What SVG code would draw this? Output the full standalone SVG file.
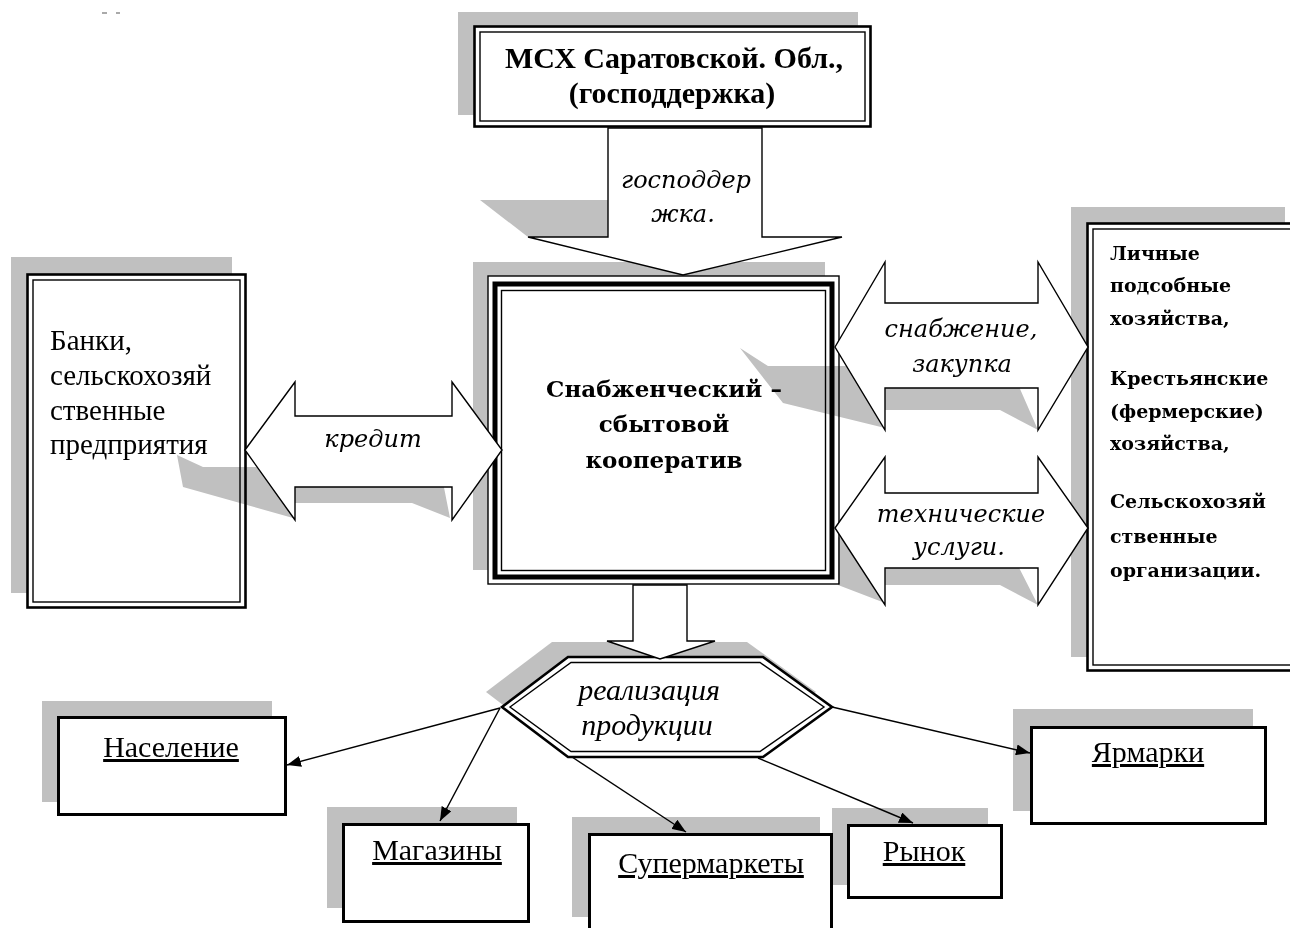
<svg xmlns="http://www.w3.org/2000/svg" width="1290" height="928" viewBox="0 0 1290 928">
<defs>
<style>
.sh{fill:#c0c0c0;stroke:none}
.ash{fill:#c0c0c0;stroke:none;mix-blend-mode:multiply}
.bg{fill:#fff;stroke:none}
.thick{fill:none;stroke:#000;stroke-width:2.6}
.thin{fill:none;stroke:#000;stroke-width:1.4}
.mid{fill:none;stroke:#000;stroke-width:5}
.box{fill:#fff;stroke:#000;stroke-width:3}
.blk{fill:#fff;stroke:#000;stroke-width:1.4;stroke-linejoin:miter}
.con{fill:none;stroke:#000;stroke-width:1.4}
.tb{font-family:"Liberation Serif",serif;font-weight:bold;fill:#000}
.db{font-family:"DejaVu Serif",serif;font-weight:bold;fill:#000}
.ti{font-family:"DejaVu Serif",serif;font-style:italic;font-size:24px;fill:#000;text-anchor:middle}
.tr{font-family:"Liberation Serif",serif;fill:#000}
.ul{font-family:"Liberation Serif",serif;font-size:30px;fill:#000;text-anchor:middle;text-decoration:underline}
</style>
<marker id="ah" viewBox="0 0 14 11" refX="14" refY="5.5" markerWidth="14" markerHeight="11" markerUnits="userSpaceOnUse" orient="auto">
<path d="M0,0 L14,5.5 L0,11 Z" fill="#000"/>
</marker>
</defs>
<rect width="1290" height="928" fill="#fff"/>
<rect x="102" y="12" width="5" height="2" fill="#aaa"/>
<rect x="116" y="12" width="4" height="2" fill="#aaa"/>

<g id="shadows">
<rect class="sh" x="458" y="12" width="400" height="103"/>
<rect class="sh" x="11" y="257" width="221" height="336"/>
<rect class="sh" x="473" y="262" width="352" height="308"/>
<rect class="sh" x="1071" y="207" width="214" height="450"/>
<polygon class="sh" points="486,692 552,642 747,642 816,692 747,742 552,742"/>
<rect class="sh" x="42" y="701" width="230" height="101"/>
<rect class="sh" x="327" y="807" width="190" height="101"/>
<rect class="sh" x="572" y="817" width="248" height="100"/>
<rect class="sh" x="832" y="808" width="156" height="77"/>
<rect class="sh" x="1013" y="709" width="240" height="102"/>
</g>

<g id="node-msh">
<rect class="bg" x="474" y="26" width="397" height="101"/>
<rect class="thick" x="474.5" y="26.5" width="396" height="100"/>
<rect class="thin" x="480" y="32" width="385" height="89"/>
<text class="tb" font-size="30" x="674" y="68" text-anchor="middle">МСХ Саратовской. Обл.,</text>
<text class="tb" font-size="30" x="672" y="103" text-anchor="middle">(господдержка)</text>
</g>

<g id="node-banks">
<rect class="bg" x="27" y="274" width="219" height="334"/>
<rect class="thick" x="27.5" y="274.5" width="218" height="333"/>
<rect class="thin" x="33" y="280" width="207" height="322"/>
<text class="tr" font-size="29" x="50" y="350">Банки,</text>
<text class="tr" font-size="29" x="50" y="385">сельскохозяй</text>
<text class="tr" font-size="29" x="50" y="420">ственные</text>
<text class="tr" font-size="29" x="50" y="454">предприятия</text>
</g>

<g id="node-coop">
<rect class="bg" x="488" y="276" width="351" height="308"/>
<rect class="thin" x="488" y="276" width="351" height="308"/>
<rect class="mid" x="495" y="284" width="337" height="293"/>
<rect class="thin" x="501.5" y="290.5" width="324" height="280"/>
<text class="db" font-size="23" x="664" y="397" text-anchor="middle">Снабженческий –</text>
<text class="db" font-size="23" x="664" y="432" text-anchor="middle">сбытовой</text>
<text class="db" font-size="23" x="664" y="468" text-anchor="middle">кооператив</text>
</g>

<g id="node-farms">
<rect class="bg" x="1087" y="223" width="213" height="448"/>
<rect class="thick" x="1087.5" y="223.5" width="212" height="447"/>
<rect class="thin" x="1093" y="229" width="207" height="436"/>
<text class="db" font-size="19" x="1110" y="260">Личные</text>
<text class="db" font-size="19" x="1110" y="292">подсобные</text>
<text class="db" font-size="19" x="1110" y="325">хозяйства,</text>
<text class="db" font-size="19" x="1110" y="385">Крестьянские</text>
<text class="db" font-size="19" x="1110" y="418">(фермерские)</text>
<text class="db" font-size="19" x="1110" y="450">хозяйства,</text>
<text class="db" font-size="19" x="1110" y="508">Сельскохозяй</text>
<text class="db" font-size="19" x="1110" y="543">ственные</text>
<text class="db" font-size="19" x="1110" y="577">организации.</text>
</g>

<g id="node-realization">
<polygon class="bg" points="502,707 568,657 763,657 832,707 763,757 568,757"/>
<polygon class="thick" points="502,707 568,657 763,657 832,707 763,757 568,757"/>
<polygon class="thin" points="510,707 571,662.5 760,662.5 824,707 760,751.5 571,751.5"/>
<text class="tr" font-size="30" font-style="italic" x="649" y="700" text-anchor="middle">реализация</text>
<text class="tr" font-size="30" font-style="italic" x="647" y="735" text-anchor="middle">продукции</text>
</g>

<g id="node-population">
<rect class="box" x="58.5" y="717.5" width="227" height="97"/>
<text class="ul" x="171" y="757">Население</text>
</g>
<g id="node-shops">
<rect class="box" x="343.5" y="824.5" width="185" height="97"/>
<text class="ul" x="437" y="860">Магазины</text>
</g>
<g id="node-supermarkets">
<rect class="box" x="589.5" y="834.5" width="242" height="110"/>
<text class="ul" x="711" y="873">Супермаркеты</text>
</g>
<g id="node-market">
<rect class="box" x="848.5" y="825.5" width="153" height="72"/>
<text class="ul" x="924" y="861">Рынок</text>
</g>
<g id="node-fairs">
<rect class="box" x="1031.5" y="727.5" width="234" height="96"/>
<text class="ul" x="1148" y="762">Ярмарки</text>
</g>

<g id="connectors">
<g id="arrow-shadows">
<polygon class="ash" points="480,200 608,200 608,237 528,237"/>
<polygon class="ash" points="177,455 203,467 440,467 450,518 412,503 295,503 293,518 183,487"/>
<polygon class="ash" points="740,348 768,366 1010,366 1038,430 1000,410 885,410 885,428 783,403"/>
<polygon class="ash" points="838,537 870,550 1010,550 1038,605 1000,585 885,585 885,603 838,585"/>
</g>
<polygon class="blk" points="608,128 762,128 762,237 842,237 683,275 528,237 608,237"/>
<text class="ti" x="686" y="188">господдер</text>
<text class="ti" x="683" y="222">жка.</text>
<polygon class="blk" points="245,450 295,382 295,416 452,416 452,382 502,450 452,520 452,487 295,487 295,520"/>
<text class="ti" x="373" y="447">кредит</text>
<polygon class="blk" points="835,347 885,262 885,303 1038,303 1038,262 1088,347 1038,430 1038,388 885,388 885,430"/>
<text class="ti" x="961" y="337">снабжение,</text>
<text class="ti" x="962" y="372">закупка</text>
<polygon class="blk" points="835,528 885,457 885,493 1038,493 1038,457 1088,528 1038,605 1038,568 885,568 885,605"/>
<text class="ti" x="961" y="522">технические</text>
<text class="ti" x="959" y="555">услуги.</text>
<polygon class="blk" points="633,585 687,585 687,641 715,641 660,659 607,641 633,641"/>
<line class="con" x1="500" y1="708" x2="287" y2="765" marker-end="url(#ah)"/>
<line class="con" x1="500" y1="708" x2="440" y2="821" marker-end="url(#ah)"/>
<line class="con" x1="572" y1="757" x2="686" y2="832" marker-end="url(#ah)"/>
<line class="con" x1="758" y1="758" x2="913" y2="823" marker-end="url(#ah)"/>
<line class="con" x1="832" y1="707" x2="1030" y2="753" marker-end="url(#ah)"/>
</g>
</svg>
